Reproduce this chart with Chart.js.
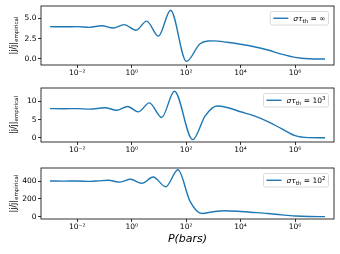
<!DOCTYPE html>
<html lang="en">
  <head>
    <meta charset="UTF-8">
    <title>j / j empirical vs P</title>
    <script src="https://cdn.jsdelivr.net/npm/chart.js"></script>
    <style>
      body { margin: 0; background: #fff; }
      canvas { position: absolute; left: 0; }
    </style>
  </head>
  <body>
    <canvas id="c1" width="340" height="82" style="top:0px"></canvas>
    <canvas id="c2" width="340" height="80" style="top:82px"></canvas>
    <canvas id="c3" width="340" height="92" style="top:162px"></canvas>
    <script>
        // pressure as log10(P in bars)
        const expP1 = [-3, -2.5, -2, -1.55, -1.1, -0.68, -0.28, 0.16, 0.55, 0.98, 1.43, 2.01, 2.5, 2.8, 3.0, 3.5, 4.0, 4.5, 5.0, 5.5, 6.0, 6.5, 7.1];
        const val1 = [3.97, 3.95, 3.97, 3.88, 4.08, 3.8, 4.22, 3.52, 4.65, 2.8, 5.97, -0.3, 1.84, 2.2, 2.22, 2.05, 1.8, 1.5, 1.1, 0.6, 0.2, 0.03, 0.0];

        const expP2 = [-3, -2.5, -2, -1.55, -0.98, -0.55, -0.15, 0.24, 0.65, 1.1, 1.57, 2.24, 2.7, 3.13, 3.5, 4.0, 4.5, 5.0, 5.5, 6.0, 6.5, 7.1];
        const val2 = [8.0, 7.97, 8.0, 7.85, 8.25, 7.55, 8.6, 7.1, 9.56, 5.58, 12.75, -0.5, 6.0, 8.7, 8.3, 7.15, 6.0, 4.45, 2.5, 0.6, 0.05, 0.0];

        const expP3 = [-3, -2.5, -2, -1.5, -1.2, -0.86, -0.43, -0.04, 0.37, 0.79, 1.25, 1.7, 2.14, 2.57, 3.0, 3.4, 4.0, 4.5, 5.0, 5.5, 6.0, 6.5, 7.1];
        const val3 = [403, 401, 402, 398, 404, 410, 390, 422, 376, 447, 337, 530, 175, 35, 55, 66, 58, 47, 35, 20, 7, 1, 0];

        const xTickExps = [-2, 0, 2, 4, 6];
        const xTickLabels = ['10⁻²', '10⁰', '10²', '10⁴', '10⁶'];

        const yTicks1 = [0, 2.5, 5];
        const yTickLabels1 = ['0.0', '2.5', '5.0'];
        const yTicks2 = [0, 5, 10];
        const yTickLabels2 = ['0', '5', '10'];
        const yTicks3 = [0, 200, 400];
        const yTickLabels3 = ['0', '200', '400'];

        const legendValues = ['∞', '10|3', '10|2'];

        const FONT = 'DejaVu Sans';
        const BLUE = '#1f77b4';

        // frame, y label, legend and x title drawn on the canvas
        const extras = {
          id: 'extras',
          afterDraw(chart, args, opts) {
            const ctx = chart.ctx;
            const a = chart.chartArea;
            ctx.save();
            ctx.strokeStyle = '#000';
            ctx.lineWidth = 0.8;
            ctx.strokeRect(a.left, a.top, a.right - a.left, a.bottom - a.top);

            // y label
            ctx.fillStyle = '#000';
            ctx.save();
            ctx.translate(13, (a.top + a.bottom) / 2);
            ctx.rotate(-Math.PI / 2);
            ctx.font = '8px ' + FONT;
            const main = '|j/j|';
            const mw = ctx.measureText(main).width;
            ctx.font = '5.5px ' + FONT;
            const sw = ctx.measureText('empirical').width;
            let sx = -(mw + sw) / 2;
            ctx.textBaseline = 'alphabetic';
            ctx.font = '8px ' + FONT;
            ctx.fillText(main, sx, 3);
            ctx.font = '5.5px ' + FONT;
            ctx.fillText('empirical', sx + mw, 5);
            ctx.restore();

            // legend
            const parts = [
              {t: 'σ', f: 'italic 7.5px ' + FONT, dy: 0},
              {t: 'τ', f: 'italic 7.5px ' + FONT, dy: 0},
              {t: 'th', f: '5.5px ' + FONT, dy: 1.8},
              {t: ' = ', f: '7.5px ' + FONT, dy: 0}
            ];
            const lv = opts.value.split('|');
            parts.push({t: lv[0], f: '7.5px ' + FONT, dy: 0});
            if (lv[1]) parts.push({t: lv[1], f: '5.5px ' + FONT, dy: -3});
            let tw = 0;
            parts.forEach(p => { ctx.font = p.f; p.w = ctx.measureText(p.t).width; tw += p.w; });
            const bw = 3 + 15 + 5 + tw + 3;
            const bh = 13.5;
            const bx = a.right - 5.5 - bw;
            const by = a.top + 5.5;
            ctx.fillStyle = 'rgba(255,255,255,0.8)';
            ctx.strokeStyle = '#d0d0d0';
            ctx.lineWidth = 0.8;
            ctx.beginPath();
            ctx.roundRect(bx, by, bw, bh, 2);
            ctx.fill();
            ctx.stroke();
            ctx.strokeStyle = BLUE;
            ctx.lineWidth = 1.4;
            ctx.beginPath();
            ctx.moveTo(bx + 3, by + bh / 2);
            ctx.lineTo(bx + 18, by + bh / 2);
            ctx.stroke();
            ctx.fillStyle = '#000';
            let tx = bx + 23;
            parts.forEach(p => {
              ctx.font = p.f;
              ctx.fillText(p.t, tx, by + bh / 2 + 2.7 + p.dy);
              tx += p.w;
            });

            if (opts.xTitle) {
              ctx.font = 'italic 11px ' + FONT;
              ctx.textAlign = 'center';
              ctx.textBaseline = 'middle';
              ctx.fillText('P(bars)', (a.left + a.right) / 2, a.bottom + 20.5);
            }
            ctx.restore();
          }
        };

        function makePanel(id, expP, vals, yMin, yMax, yTicks, yLabels, padTop, xHeight, legendValue, xTitle) {
          const points = expP.map((e, i) => ({x: Math.pow(10, e), y: vals[i]}));
          new Chart(document.getElementById(id), {
            type: 'line',
            data: {
              datasets: [{
                data: points,
                borderColor: BLUE,
                borderWidth: 1.4,
                pointRadius: 0,
                cubicInterpolationMode: 'monotone',
                fill: false
              }]
            },
            options: {
              responsive: false,
              animation: false,
              devicePixelRatio: 1,
              layout: { padding: { top: padTop, right: 6, left: 0, bottom: 0 } },
              plugins: {
                legend: { display: false },
                tooltip: { enabled: false },
                extras: { value: legendValue, xTitle: xTitle }
              },
              scales: {
                x: {
                  type: 'logarithmic',
                  min: Math.pow(10, -3.33),
                  max: Math.pow(10, 7.43),
                  afterBuildTicks: s => { s.ticks = xTickExps.map(e => ({value: Math.pow(10, e)})); },
                  afterFit: s => { s.height = xHeight; },
                  ticks: {
                    callback: (v, i) => xTickLabels[i],
                    font: { family: FONT, size: 7.5 },
                    color: '#000',
                    padding: 1,
                    maxRotation: 0,
                    autoSkip: false
                  },
                  grid: { drawOnChartArea: false, drawTicks: true, tickLength: 3, color: '#000', lineWidth: 0.8 },
                  border: { display: false }
                },
                y: {
                  type: 'linear',
                  min: yMin,
                  max: yMax,
                  afterBuildTicks: s => { s.ticks = yTicks.map(v => ({value: v})); },
                  afterFit: s => { s.width = 41; },
                  ticks: {
                    callback: (v, i) => yLabels[i],
                    font: { family: FONT, size: 7.5 },
                    color: '#000',
                    padding: 1.5
                  },
                  grid: { drawOnChartArea: false, drawTicks: true, tickLength: 3, color: '#000', lineWidth: 0.8 },
                  border: { display: false }
                }
              }
            },
            plugins: [extras]
          });
        }

        makePanel('c1', expP1, val1, -0.74, 6.5, yTicks1, yTickLabels1, 6, 17, legendValues[0], false);
        makePanel('c2', expP2, val2, -1.15, 13.65, yTicks2, yTickLabels2, 3, 20, legendValues[1], false);
        makePanel('c3', expP3, val3, -27, 549, yTicks3, yTickLabels3, 2, 35, legendValues[2], true);
    </script>
  </body>
</html>
